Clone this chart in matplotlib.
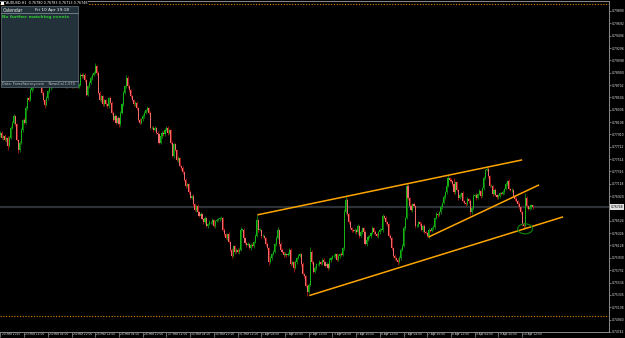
import matplotlib
matplotlib.use("Agg")
import matplotlib.pyplot as plt
import matplotlib.transforms as mtransforms
from matplotlib.patches import Rectangle, Ellipse
from matplotlib.lines import Line2D
import numpy as np

# AUDUSD H1, prices as pips above 0.75000
BASE = 0.75
PIP = 0.0001

closes_pips = [
    294, 285, 288, 282, 285, 272, 286, 301, 310, 320, 307, 282, 266, 278, 298, 314, 310, 333, 349, 346,
    362, 365, 371, 381, 387, 394, 384, 374, 358, 346, 338, 349, 360, 365, 368, 378, 381, 374, 371, 378,
    384, 378, 371, 374, 368, 371, 378, 371, 368, 374, 371, 368, 368, 371, 387, 384, 387, 378, 355, 368,
    374, 381, 387, 390, 400, 390, 358, 346, 352, 339, 346, 339, 336, 349, 342, 326, 314, 320, 310, 317,
    307, 326, 339, 358, 368, 381, 368, 362, 352, 346, 339, 342, 333, 314, 310, 315, 320, 326, 330, 333,
    326, 301, 302, 298, 301, 294, 291, 278, 288, 294, 291, 298, 302, 293, 298, 278, 256, 275, 266, 250,
    253, 240, 237, 230, 218, 208, 211, 198, 189, 192, 179, 170, 176, 166, 160, 163, 155, 150, 157, 144,
    147, 150, 150, 154, 144, 152, 154, 155, 157, 157, 138, 131, 125, 131, 118, 106, 96, 112, 102, 106,
    102, 106, 138, 138, 125, 117, 114, 115, 109, 114, 112, 118, 128, 154, 138, 138, 128, 128, 125, 115,
    109, 86, 93, 99, 102, 115, 125, 138, 115, 106, 102, 98, 99, 98, 99, 106, 83, 86, 77, 86,
    93, 96, 99, 83, 67, 64, 48, 38, 50, 102, 86, 70, 77, 83, 83, 86, 83, 90, 86, 80,
    83, 77, 90, 93, 96, 96, 99, 90, 96, 99, 98, 109, 166, 186, 163, 150, 141, 138, 136, 138,
    134, 144, 128, 134, 141, 134, 115, 122, 126, 128, 133, 141, 134, 131, 128, 134, 138, 138, 160, 157,
    150, 147, 128, 125, 109, 96, 93, 90, 86, 93, 106, 112, 141, 157, 208, 189, 176, 170, 179, 176,
    144, 144, 150, 147, 138, 144, 134, 133, 128, 138, 136, 141, 142, 157, 163, 162, 166, 174, 181, 190,
    198, 208, 221, 218, 216, 211, 198, 214, 202, 189, 194, 197, 184, 181, 179, 187, 184, 166, 173, 192,
    194, 189, 195, 200, 192, 205, 221, 234, 235, 224, 208, 208, 195, 202, 194, 190, 192, 197, 195, 198,
    203, 211, 216, 203, 202, 202, 192, 187, 184, 179, 174, 166, 147, 144, 189, 176, 171, 174, 178, 174.8,
]
first_open_pips = 290

wick_up_pips = [
    2, 3, 2, 4, 2, 3, 2, 3, 2, 4, 2, 3, 2, 2, 3, 2, 4, 3, 2, 3,
    3, 2, 4, 3, 2, 3, 2, 2, 3, 2, 2, 3, 2, 4, 2, 3, 2, 2, 3, 2,
    3, 2, 2, 3, 2, 2, 3, 2, 2, 3, 2, 3, 2, 2, 3, 2, 3, 2, 2, 3,
    2, 3, 2, 2, 5, 3, 2, 3, 2, 3, 2, 2, 3, 2, 3, 2, 2, 3, 2, 3,
    2, 3, 2, 3, 2, 5, 3, 2, 2, 3, 2, 3, 2, 2, 3, 2, 3, 2, 2, 3,
    2, 3, 2, 2, 3, 2, 3, 2, 3, 2, 2, 3, 2, 3, 2, 2, 3, 2, 3, 2,
    3, 2, 2, 3, 2, 3, 2, 2, 3, 2, 3, 2, 2, 3, 2, 3, 2, 2, 3, 2,
    2, 3, 2, 3, 2, 2, 3, 2, 2, 3, 2, 3, 2, 2, 3, 2, 3, 2, 2, 3,
    2, 3, 4, 2, 3, 2, 2, 3, 2, 3, 2, 2, 3, 8, 2, 3, 2, 3, 2, 2,
    3, 2, 3, 2, 3, 2, 3, 4, 2, 3, 2, 2, 3, 2, 3, 2, 3, 2, 2, 3,
    2, 3, 2, 2, 3, 2, 2, 3, 2, 8, 3, 2, 3, 2, 2, 3, 2, 3, 2, 2,
    3, 2, 3, 2, 2, 3, 2, 2, 3, 2, 3, 2, 6, 6, 3, 2, 3, 2, 2, 3,
    2, 3, 2, 3, 2, 2, 3, 2, 3, 2, 2, 3, 2, 3, 2, 2, 3, 2, 4, 2,
    3, 2, 2, 3, 2, 2, 3, 2, 2, 3, 2, 3, 3, 2, 5, 3, 2, 3, 2, 3,
    2, 3, 2, 2, 3, 2, 3, 2, 2, 3, 2, 2, 3, 2, 3, 2, 2, 3, 2, 3,
    2, 3, 5, 2, 3, 2, 10, 3, 2, 2, 3, 2, 3, 2, 2, 3, 2, 3, 2, 3,
    2, 3, 2, 3, 2, 2, 3, 2, 4, 3, 2, 3, 2, 2, 3, 2, 3, 2, 2, 3,
    2, 3, 2, 3, 2, 3, 2, 2, 3, 2, 3, 2, 2, 3, 8, 3, 2, 3, 2, 0.3,
]
wick_dn_pips = [
    3, 2, 3, 2, 3, 6, 2, 3, 2, 2, 3, 2, 5, 3, 2, 3, 2, 2, 3, 2,
    2, 3, 2, 2, 3, 2, 3, 2, 3, 2, 5, 2, 3, 2, 3, 2, 2, 3, 2, 3,
    2, 3, 2, 2, 3, 2, 2, 3, 2, 3, 2, 2, 3, 2, 3, 2, 2, 3, 2, 2,
    3, 2, 3, 2, 2, 3, 2, 2, 3, 2, 3, 2, 2, 3, 2, 3, 2, 2, 3, 2,
    4, 2, 3, 2, 2, 3, 2, 3, 2, 2, 3, 2, 3, 2, 2, 3, 2, 3, 2, 2,
    3, 2, 2, 3, 2, 3, 2, 2, 3, 2, 3, 2, 2, 3, 2, 3, 2, 3, 2, 2,
    3, 2, 3, 2, 2, 3, 2, 3, 2, 2, 3, 2, 3, 2, 2, 3, 2, 2, 3, 2,
    3, 2, 2, 3, 2, 3, 2, 2, 3, 2, 2, 3, 2, 3, 2, 2, 3, 2, 3, 2,
    2, 3, 2, 2, 3, 2, 3, 2, 2, 3, 2, 3, 2, 2, 3, 2, 3, 2, 2, 3,
    2, 5, 2, 3, 2, 2, 3, 2, 3, 2, 2, 3, 2, 3, 2, 2, 3, 2, 6, 2,
    3, 2, 2, 3, 2, 3, 2, 6, 2, 2, 3, 2, 2, 3, 2, 3, 2, 2, 3, 2,
    2, 3, 2, 3, 2, 2, 3, 2, 2, 3, 2, 2, 3, 2, 3, 2, 2, 3, 2, 3,
    2, 2, 3, 2, 3, 2, 2, 3, 2, 2, 3, 2, 3, 2, 2, 3, 2, 2, 3, 2,
    2, 3, 2, 2, 3, 2, 3, 2, 5, 2, 3, 2, 2, 3, 2, 3, 2, 2, 3, 2,
    3, 2, 2, 3, 2, 3, 2, 2, 2, 3, 2, 2, 3, 2, 2, 3, 2, 3, 2, 2,
    3, 2, 2, 3, 2, 2, 3, 2, 2, 3, 2, 3, 2, 2, 3, 2, 3, 5, 2, 3,
    2, 3, 2, 2, 3, 2, 3, 2, 2, 3, 2, 2, 3, 2, 2, 3, 2, 3, 2, 2,
    3, 2, 3, 2, 2, 3, 2, 3, 2, 3, 2, 2, 3, 5, 2, 3, 2, 2, 3, 3.5,
]

time_labels = ["20 Mar 2015", "23 Mar 12:00", "24 Mar 04:00", "24 Mar 20:00", "25 Mar 12:00",
               "26 Mar 04:00", "26 Mar 20:00", "27 Mar 12:00", "30 Mar 04:00", "30 Mar 20:00",
               "31 Mar 12:00", "1 Apr 04:00", "1 Apr 20:00", "2 Apr 12:00", "3 Apr 04:00",
               "3 Apr 20:00", "6 Apr 12:00", "7 Apr 04:00", "7 Apr 20:00", "8 Apr 12:00",
               "9 Apr 04:00", "9 Apr 20:00", "10 Apr 12:00"]
time_label_bars = [16 * k for k in range(len(time_labels))]

# 0.76722 sits under the current price box, so it is left out
price_ticks = [0.79890, 0.79692, 0.79494, 0.79296, 0.79098, 0.78900, 0.78702, 0.78504,
               0.78306, 0.78108, 0.77910, 0.77712, 0.77514, 0.77316, 0.77118, 0.76920,
               0.76524, 0.76326, 0.76128, 0.75930, 0.75732, 0.75534, 0.75336,
               0.75138, 0.74940, 0.74742]

# user drawn objects (bar index, price)
trend_lines = [
    (173.3, 0.76619, 352.0, 0.77501),
    (208.4, 0.75325, 379.6, 0.76587),
    (288.7, 0.76262, 363.4, 0.77100),
]
level_lines = [0.80000, 0.75000]
circle_bar, circle_price = 354.0, 0.76395

closes = BASE + np.array(closes_pips) * PIP
opens = np.concatenate([[BASE + first_open_pips * PIP], closes[:-1]])
highs = np.maximum(opens, closes) + np.array(wick_up_pips) * PIP
lows = np.minimum(opens, closes) - np.array(wick_dn_pips) * PIP
idx = np.arange(len(closes))
bull = closes >= opens

W, H = 625, 338
fig = plt.figure(figsize=(W / 100, H / 100), dpi=100, facecolor="black")
ax = fig.add_axes([0, 6 / H, 609 / W, 331 / H])
ax.set_facecolor("black")
ax.set_xlim(-0.3, 410.6)
ax.set_ylim(0.74740, 0.80050)

FONT = ["DejaVu Sans"]

# level lines and bid line
for lv in level_lines:
    ax.axhline(lv, color="#d98a00", lw=0.8, ls=(0, (1, 1.5)), zorder=1)
ax.axhline(closes[-1], color="#2c3237", lw=1.6, zorder=0.5)

# candles
wick_col = np.where(bull, "#0c8a0c", "#b31414")
body_col = np.where(bull, "#14b414", "#f06a6a")
ax.vlines(idx, lows, highs, colors=wick_col, lw=0.6, zorder=2)
body_lo = np.minimum(opens, closes)
body_h = np.maximum(np.abs(closes - opens), 0.6 * PIP)
ax.bar(idx, body_h, bottom=body_lo, width=0.75, color=body_col, edgecolor="none", zorder=3)

for x0, p0, x1, p1 in trend_lines:
    ax.plot([x0, x1], [p0, p1], color="#ffa500", lw=1.1, zorder=4, solid_capstyle="butt")
ax.add_patch(Ellipse((circle_bar, circle_price), 10.0, 0.0016, fill=False,
                     ec="#0d7a0d", lw=0.9, zorder=5))

# axes styling
ax.spines["left"].set_visible(False)
for s in ["right", "bottom", "top"]:
    ax.spines[s].set_color("#8a8a8a")
    ax.spines[s].set_linewidth(0.7)

ax.yaxis.tick_right()
ax.set_yticks(price_ticks)
ax.set_yticklabels([f"{p:.5f}" for p in price_ticks], family=FONT)
ax.tick_params(axis="y", colors="#9a9a9a", labelcolor="#e6e6e6", labelsize=2.2,
               length=1.5, width=0.5, pad=0.5, direction="out")

ax.set_xticks(time_label_bars)
ax.set_xticklabels(time_labels, family=FONT)
ax.tick_params(axis="x", colors="#9a9a9a", labelcolor="#e6e6e6", labelsize=2.1,
               length=3.5, width=0.5, pad=-3.4, direction="out")
off = mtransforms.ScaledTranslation(1.2 / 100, 0, fig.dpi_scale_trans)
for lbl in ax.get_xticklabels():
    lbl.set_horizontalalignment("left")
    lbl.set_transform(lbl.get_transform() + off)

# current price box
ax.annotate(f"{closes[-1]:.5f}", xy=(1.0, closes[-1]), xycoords=("axes fraction", "data"),
            xytext=(2.0, 0), textcoords="offset pixels", va="center", ha="left",
            fontsize=2.2, family=FONT, color="black", annotation_clip=False, zorder=10,
            bbox=dict(boxstyle="square,pad=0.3", fc="#e0e0e0", ec="none"))


def fx(px):
    return px / W


def fy(py):
    return 1 - py / H


# chart title
fig.add_artist(Rectangle((fx(1), fy(5)), 3 / W, 3 / H, transform=fig.transFigure,
                         fc="white", ec="none", zorder=20))
title = "AUDUSD,H1  {:.5f} {:.5f} {:.5f} {:.5f}".format(opens[-1], highs[-1], lows[-1], closes[-1])
fig.text(fx(6), fy(3.4), title, fontsize=2.4, family=FONT, color="white",
         va="center", ha="left", zorder=20,
         bbox=dict(boxstyle="square,pad=0.1", fc="black", ec="none"))

# calendar panel
fig.add_artist(Rectangle((fx(1), fy(87)), 77 / W, 80.5 / H, transform=fig.transFigure,
                         fc="#22313a", ec="#55636b", lw=0.6, zorder=20))
fig.add_artist(Line2D([fx(1.5), fx(77.5)], [fy(13.3), fy(13.3)], transform=fig.transFigure,
                      color="#7b8890", lw=0.6, zorder=21))
fig.add_artist(Line2D([fx(1.5), fx(77.5)], [fy(80.7), fy(80.7)], transform=fig.transFigure,
                      color="#7b8890", lw=0.6, zorder=21))
fig.text(fx(2.5), fy(10.2), "Calendar", fontsize=3.3, family=FONT, color="#f0f0f0",
         va="center", ha="left", zorder=22)
fig.text(fx(35), fy(10.2), "Fri 10 Apr 19:18", fontsize=3.1, family=FONT, color="#f0f0f0",
         va="center", ha="left", zorder=22)
fig.text(fx(2.2), fy(17), "No further matching events", fontsize=3.1, family=FONT,
         color="#2fcc2f", va="center", ha="left", zorder=22, fontweight="bold")
fig.text(fx(2.2), fy(84), "Data: ForexFactory.com    NewsCal 1.070", fontsize=2.5,
         family=FONT, color="#c8c8c8", va="center", ha="left", zorder=22)

fig.savefig("out.png", dpi=100, facecolor="black")
